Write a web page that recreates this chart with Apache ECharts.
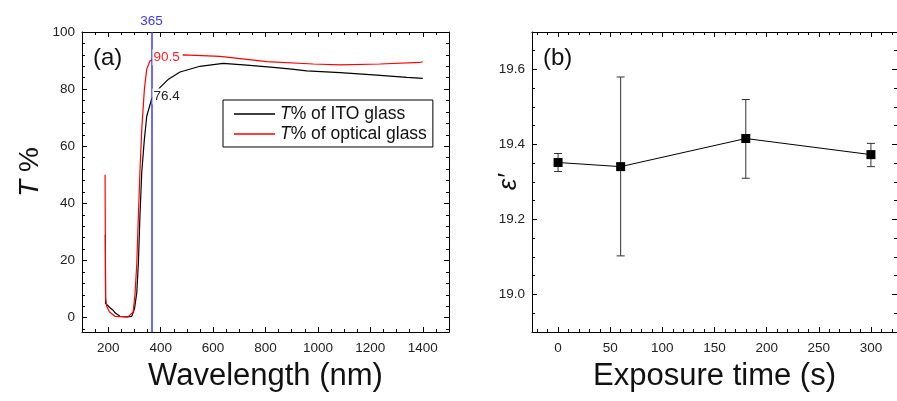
<!DOCTYPE html>
<html>
<head>
<meta charset="utf-8">
<script src="https://cdn.jsdelivr.net/npm/echarts@6/dist/echarts.min.js"></script>
<style>
  html, body { margin: 0; padding: 0; background: #fff; }
  #chart { width: 897px; height: 401px; }
</style>
</head>
<body>
<div id="chart"></div>
<script>
// (a) transmittance spectra
const itoWavelength = [189, 190, 195, 207, 220, 226, 245, 270, 290, 300, 309, 315, 321, 328, 338, 347, 360, 365,
  380, 398, 430, 474, 550, 638, 729, 830, 900, 958, 1085, 1211, 1340, 1400];
const itoT = [29, 5, 4.5, 3.5, 2.5, 1.7, 0.5, 0.3, 0.5, 3, 8.8, 19, 35.5, 51, 62.5, 70.6, 74.7, 76.4,
  78.5, 80.6, 83.5, 86, 88, 89, 88.4, 87.6, 87, 86.4, 85.8, 85, 84.1, 83.8];
const opticalWavelength = [188, 190, 194, 205, 226, 276, 295, 302, 309, 315, 321, 328, 338, 347, 360, 365,
  400, 487, 627, 805, 982, 1085, 1237, 1390, 1400];
const opticalT = [50, 7, 4, 2, 0.5, 0.3, 2, 8, 19, 35.5, 51, 66, 80, 87, 90, 90.5,
  91.5, 92, 91.5, 89.6, 88.8, 88.5, 88.8, 89.4, 89.6];
const markWavelength = 365;
const itoAtMark = 76.4;
const opticalAtMark = 90.5;

// (b) dielectric constant vs exposure time
const exposureTime = [0, 60, 180, 300];
const epsilon = [19.352, 19.341, 19.416, 19.373];
const epsilonLow = [19.328, 19.103, 19.310, 19.341];
const epsilonHigh = [19.376, 19.580, 19.520, 19.403];

const FONT = '"Liberation Sans", Arial, sans-serif';
const tickLabel = { color: '#222', fontSize: 13.5, fontFamily: FONT };

function zip(a, b) {
  return a.map((v, i) => [v, b[i]]);
}

// one side of the box frame, ticks pointing inward
function frameAxis(gridIndex, position, min, max, step, minorSplit, extra) {
  return Object.assign({
    type: 'value',
    gridIndex: gridIndex,
    position: position,
    min: min,
    max: max,
    minInterval: step,
    maxInterval: step,
    splitLine: { show: false },
    axisLine: { show: true, onZero: false, lineStyle: { color: '#000', width: 1 } },
    axisTick: { show: true, inside: true, length: 5, lineStyle: { color: '#000' } },
    minorTick: { show: true, splitNumber: minorSplit, length: 3, lineStyle: { color: '#000' } },
    axisLabel: { show: false }
  }, extra || {});
}

const chart = echarts.init(document.getElementById('chart'));

const option = {
  backgroundColor: '#fff',
  animation: false,
  grid: [
    { left: 82, top: 32, right: 448, bottom: 69 },
    { left: 532, top: 32, right: -3, bottom: 69 }
  ],
  legend: {
    data: ['T% of ITO glass', 'T% of optical glass'],
    left: 223,
    top: 100,
    orient: 'vertical',
    icon: 'rect',
    itemWidth: 41,
    itemHeight: 1.5,
    itemGap: 2,
    padding: [5, 6, 4, 11],
    borderColor: '#000',
    borderWidth: 1,
    formatter: name => '{i|T}' + name.slice(1),
    textStyle: {
      fontSize: 17.5, color: '#111', fontFamily: FONT,
      rich: { i: { fontSize: 17.5, fontStyle: 'italic', color: '#111', fontFamily: FONT } }
    }
  },
  xAxis: [
    frameAxis(0, 'bottom', 100, 1500, 200, 4, {
      axisLabel: Object.assign({ show: true, margin: 9, showMinLabel: false, showMaxLabel: false,
        formatter: v => String(v) }, tickLabel),
      name: 'Wavelength (nm)',
      nameLocation: 'middle',
      nameGap: 29,
      nameMoveOverlap: false,
      nameTextStyle: { fontSize: 31, color: '#111', fontFamily: FONT }
    }),
    frameAxis(0, 'top', 100, 1500, 200, 4),
    frameAxis(1, 'bottom', -25, 325, 50, 5, {
      axisLabel: Object.assign({ show: true, margin: 9, showMinLabel: false, showMaxLabel: false,
        formatter: v => String(v) }, tickLabel),
      name: 'Exposure time (s)',
      nameLocation: 'middle',
      nameGap: 29,
      nameMoveOverlap: false,
      nameTextStyle: { fontSize: 31, color: '#111', fontFamily: FONT }
    }),
    frameAxis(1, 'top', -25, 325, 50, 5)
  ],
  yAxis: [
    frameAxis(0, 'left', -5, 100, 20, 5, {
      axisLabel: Object.assign({ show: true, margin: 7, showMinLabel: false }, tickLabel),
      name: '{i|T} %',
      nameLocation: 'middle',
      nameGap: 38,
      nameTextStyle: {
        fontSize: 28, color: '#111', fontFamily: FONT, padding: [0, 0, 0, 20],
        rich: { i: { fontSize: 28, fontStyle: 'italic', color: '#111', fontFamily: FONT } }
      }
    }),
    frameAxis(0, 'right', -5, 100, 20, 5),
    frameAxis(1, 'left', 18.9, 19.7, 0.2, 4, {
      axisLabel: Object.assign({
        show: true, margin: 7, showMinLabel: false, showMaxLabel: false,
        formatter: v => v.toFixed(1)
      }, tickLabel),
      name: 'ε′',
      nameLocation: 'middle',
      nameGap: 10,
      nameMoveOverlap: false,
      nameTextStyle: { fontSize: 26, fontStyle: 'italic', color: '#111', fontFamily: FONT }
    }),
    frameAxis(1, 'right', 18.9, 19.7, 0.2, 4)
  ],
  graphic: [
    { type: 'text', left: 93, top: 46, style: { text: '(a)', fontSize: 24, fontFamily: FONT, fill: '#111' } },
    { type: 'text', left: 543, top: 46, style: { text: '(b)', fontSize: 24, fontFamily: FONT, fill: '#111' } }
  ],
  series: [
    {
      name: 'T% of ITO glass',
      type: 'line',
      xAxisIndex: 0,
      yAxisIndex: 0,
      data: zip(itoWavelength, itoT),
      showSymbol: false,
      symbol: 'none',
      color: '#000',
      lineStyle: { color: '#000', width: 1.2 },
      markLine: {
        silent: true,
        symbol: ['none', 'none'],
        data: [{ xAxis: markWavelength }],
        lineStyle: { color: '#3838ff', width: 1.5, type: 'solid' },
        label: { show: true, position: 'end', distance: 4, formatter: String(markWavelength),
          color: '#3838ff', fontSize: 13.5, fontFamily: FONT }
      },
      markPoint: {
        silent: true,
        symbol: 'circle',
        symbolSize: 0,
        data: [{ coord: [markWavelength, itoAtMark], value: itoAtMark }],
        label: { show: true, position: 'right', distance: 1, offset: [0, -3],
          formatter: String(itoAtMark), color: '#222', fontSize: 13.5, fontFamily: FONT,
          backgroundColor: '#fff', padding: [1, 2, 1, 1] }
      }
    },
    {
      name: 'T% of optical glass',
      type: 'line',
      xAxisIndex: 0,
      yAxisIndex: 0,
      data: zip(opticalWavelength, opticalT),
      showSymbol: false,
      symbol: 'none',
      color: '#ff0000',
      lineStyle: { color: '#ff0000', width: 1.2 },
      markPoint: {
        silent: true,
        symbol: 'circle',
        symbolSize: 0,
        data: [{ coord: [markWavelength, opticalAtMark], value: opticalAtMark }],
        label: { show: true, position: 'right', distance: 1, offset: [0, -2],
          formatter: String(opticalAtMark), color: '#ff2020', fontSize: 13.5, fontFamily: FONT,
          backgroundColor: '#fff', padding: [1, 3, 1, 1] }
      }
    },
    {
      type: 'custom',
      xAxisIndex: 2,
      yAxisIndex: 2,
      data: exposureTime.map((t, i) => [t, epsilonLow[i], epsilonHigh[i]]),
      encode: { x: 0, y: [1, 2] },
      renderItem: function (params, api) {
        const lo = api.coord([api.value(0), api.value(1)]);
        const hi = api.coord([api.value(0), api.value(2)]);
        const w = 4;
        const style = { stroke: '#333', lineWidth: 1 };
        return {
          type: 'group',
          children: [
            { type: 'line', shape: { x1: lo[0], y1: lo[1], x2: hi[0], y2: hi[1] }, style: style },
            { type: 'line', shape: { x1: lo[0] - w, y1: lo[1], x2: lo[0] + w, y2: lo[1] }, style: style },
            { type: 'line', shape: { x1: hi[0] - w, y1: hi[1], x2: hi[0] + w, y2: hi[1] }, style: style }
          ]
        };
      },
      z: 2
    },
    {
      type: 'line',
      xAxisIndex: 2,
      yAxisIndex: 2,
      data: zip(exposureTime, epsilon),
      symbol: 'rect',
      symbolSize: 9,
      color: '#000',
      itemStyle: { color: '#000' },
      lineStyle: { color: '#000', width: 1 },
      z: 3
    }
  ]
};

chart.setOption(option);
</script>
</body>
</html>
